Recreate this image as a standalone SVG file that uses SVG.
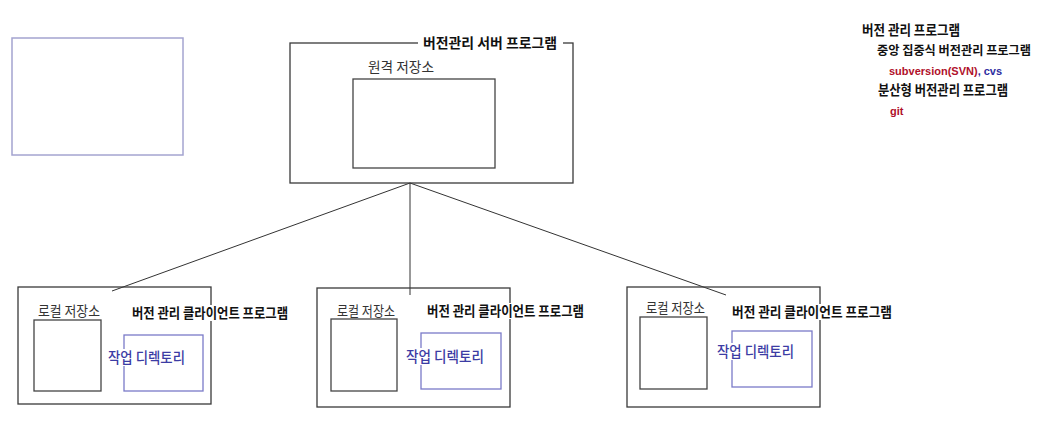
<svg xmlns="http://www.w3.org/2000/svg" width="1045" height="442" viewBox="0 0 1045 442">
<style>
.box{fill:none;stroke:#3a3a3a;stroke-width:1.3}
.inner{fill:#fff;stroke:#444;stroke-width:1.3}
.work{fill:#fff;stroke:#7a7ac8;stroke-width:1.3}
.plain{fill:none;stroke:#a4a4d0;stroke-width:1.5}
.bg{fill:#fff}
.t{font-family:"Noto Sans CJK KR","Noto Sans",sans-serif;font-size:13.5px;fill:#333}
.b{font-family:"Noto Sans CJK KR","Noto Sans",sans-serif;font-size:13.5px;font-weight:bold;fill:#111}
.w{font-family:"Noto Sans CJK KR","Noto Sans",sans-serif;font-size:14.5px;font-weight:500;fill:#3c3ca4}
.lat{font-family:"Liberation Sans","Noto Sans",sans-serif;font-size:11px;font-weight:bold}
.red{fill:#b0102a}
.blue{fill:#2e2ea0}
.c{stroke:#333;stroke-width:1;fill:none}
</style>
<rect width="1045" height="442" fill="#fff"/>
<g id="blank-box"><rect class="plain" x="12" y="38" width="171" height="117"/></g>
<g id="connectors">
<line class="c" x1="410" y1="183" x2="112" y2="291"/>
<line class="c" x1="410" y1="183" x2="410" y2="295"/>
<line class="c" x1="410" y1="183" x2="726" y2="295"/>
</g>
<g id="server">
<rect class="box" x="290" y="43" width="283" height="140"/>
<rect class="bg" x="418" y="35" width="145" height="16"/>
<text class="b" x="423" y="48" textLength="134" lengthAdjust="spacingAndGlyphs">버전관리 서버 프로그램</text>
<text class="t" x="368" y="72" textLength="66" lengthAdjust="spacingAndGlyphs">원격 저장소</text>
<rect class="inner" x="353" y="79" width="142" height="89"/>
</g>
<g id="client1">
<rect class="box" x="18" y="287" width="193" height="117"/>
<text class="t" x="38" y="316" textLength="62" lengthAdjust="spacingAndGlyphs">로컬 저장소</text>
<rect class="inner" x="34" y="320" width="67" height="71"/>
<rect class="work" x="124" y="335" width="79" height="56"/>
<rect class="bg" x="130" y="305" width="160" height="16"/>
<text class="b" x="132" y="318" textLength="156" lengthAdjust="spacingAndGlyphs">버전 관리 클라이언트 프로그램</text>
<rect class="bg" x="106" y="349" width="81" height="17"/>
<text class="w" x="108" y="363" textLength="77" lengthAdjust="spacingAndGlyphs">작업 디렉토리</text>
</g>
<g id="client2">
<rect class="box" x="317" y="288" width="193" height="119"/>
<text class="t" x="337" y="316" textLength="58" lengthAdjust="spacingAndGlyphs">로컬 저장소</text>
<rect class="inner" x="331" y="319" width="66" height="72"/>
<rect class="work" x="421" y="333" width="80" height="56"/>
<rect class="bg" x="425" y="303" width="161" height="16"/>
<text class="b" x="427" y="316" textLength="157" lengthAdjust="spacingAndGlyphs">버전 관리 클라이언트 프로그램</text>
<rect class="bg" x="404" y="348" width="82" height="17"/>
<text class="w" x="406" y="362" textLength="78" lengthAdjust="spacingAndGlyphs">작업 디렉토리</text>
</g>
<g id="client3">
<rect class="box" x="627" y="287" width="193" height="120"/>
<text class="t" x="646" y="313" textLength="59" lengthAdjust="spacingAndGlyphs">로컬 저장소</text>
<rect class="inner" x="640" y="317" width="67" height="72"/>
<rect class="work" x="732" y="331" width="80" height="56"/>
<rect class="bg" x="730" y="304" width="164" height="16"/>
<text class="b" x="732" y="317" textLength="160" lengthAdjust="spacingAndGlyphs">버전 관리 클라이언트 프로그램</text>
<rect class="bg" x="715" y="343" width="81" height="17"/>
<text class="w" x="717" y="357" textLength="77" lengthAdjust="spacingAndGlyphs">작업 디렉토리</text>
</g>
<g id="legend">
<text class="b" x="862" y="35" textLength="98" lengthAdjust="spacingAndGlyphs">버전 관리 프로그램</text>
<text class="b" x="877" y="55" font-size="12.5" style="font-size:12.5px" textLength="154" lengthAdjust="spacingAndGlyphs">중앙 집중식 버전관리 프로그램</text>
<text class="lat" x="889" y="75"><tspan class="red">subversion(SVN)</tspan><tspan class="blue">, cvs</tspan></text>
<text class="b" x="878" y="95" textLength="130" lengthAdjust="spacingAndGlyphs">분산형 버전관리 프로그램</text>
<text class="lat red" x="890" y="115">git</text>
</g>
</svg>
